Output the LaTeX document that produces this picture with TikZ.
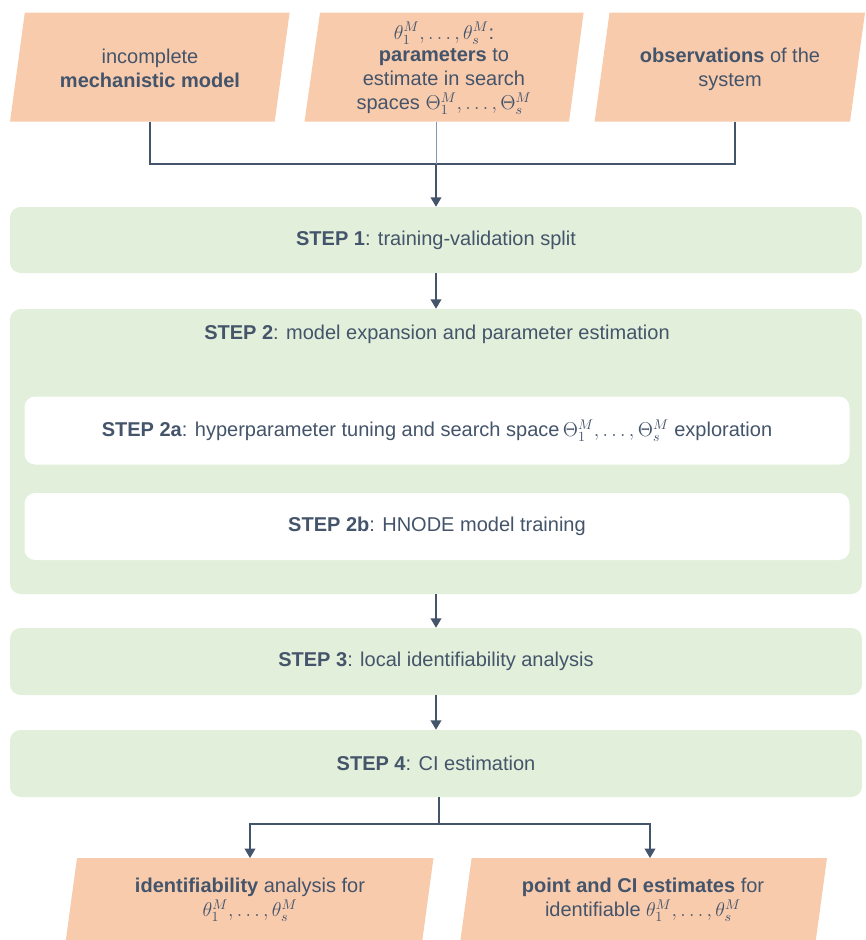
\RequirePackage{fix-cm}
\documentclass[tikz,border=0pt]{standalone}
\usepackage{fontspec}
\setmainfont{Liberation Sans}
\usetikzlibrary{arrows.meta}
\definecolor{txt}{HTML}{44546A}
\definecolor{orng}{HTML}{F8CBAD}
\definecolor{grn}{HTML}{E2EFDA}
\definecolor{thinln}{HTML}{8497B0}
\begin{document}
\begin{tikzpicture}[x=0.75pt,y=-0.75pt,
  every node/.style={text=txt, font=\fontsize{15}{18}\selectfont, align=center, inner sep=0pt},
  stepbox/.style={rectangle, rounded corners=8pt, fill=grn, minimum width=639pt},
  subbox/.style={rectangle, rounded corners=8pt, fill=white, minimum width=618.75pt},
  conn/.style={draw=txt, line width=1.1pt},
  thinconn/.style={draw=thinln, line width=0.6pt},
  tip/.style={-{Triangle[length=7pt,width=8pt]}}]
\useasboundingbox (0,0) rectangle (865,940);
\begin{scope}
\clip (0,0) rectangle (865,940);
% top input boxes
\fill[orng] (24.8,12.7) -- (289.6,12.7) -- (274.7,121.7) -- (10,121.7) -- cycle;
\fill[orng] (320,12.7) -- (583.6,12.7) -- (569,121.7) -- (304.5,121.7) -- cycle;
\fill[orng] (609.5,12.7) -- (865,12.7) -- (850,121.7) -- (594.6,121.7) -- cycle;
% bottom output boxes
\fill[orng] (77,858) -- (433.5,858) -- (421,950) -- (64.5,950) -- cycle;
\fill[orng] (471.6,858) -- (827,858) -- (814.5,950) -- (459.1,950) -- cycle;
\end{scope}

\node (in1) at (150,68.5) {incomplete\\\textbf{mechanistic model}};
\node (in2) at (444,68.5) {$\theta_1^M,\ldots,\theta_s^M$:\\[-1pt]\textbf{parameters} to\\estimate in search\\spaces $\Theta_1^M,\ldots,\Theta_s^M$};
\node (in3) at (730,69) {\textbf{observations} of the\\system};

\node[stepbox, minimum height=49.5pt] (s1) at (436,240) {\textbf{STEP 1}: training-validation split};
\node[stepbox, minimum height=213.75pt] (s2) at (436,451.5) {};
\node (s2t) at (437,334) {\textbf{STEP 2}: model expansion and parameter estimation};
\node[subbox, minimum height=51pt] (s2a) at (437,430.5) {\textbf{STEP 2a}: hyperparameter tuning and search space\,$\Theta_1^M,\ldots,\Theta_s^M$ exploration};
\node[subbox, minimum height=50.25pt] (s2b) at (437,526.5) {\textbf{STEP 2b}: HNODE model training};
\node[stepbox, minimum height=50.25pt] (s3) at (436,661.5) {\textbf{STEP 3}: local identifiability analysis};
\node[stepbox, minimum height=50.25pt] (s4) at (436,763.5) {\textbf{STEP 4}: CI estimation};

\node (out1) at (250,900) {\textbf{identifiability} analysis for\\$\theta_1^M,\ldots,\theta_s^M$};
\node (out2) at (643,900) {\textbf{point and CI estimates} for\\identifiable $\theta_1^M,\ldots,\theta_s^M$};

% connectors
\coordinate (b1s) at (150,121.7);
\coordinate (b2s) at (436,121.7);
\coordinate (b3s) at (735,121.7);
\coordinate (j) at (436,164);
\draw[conn] (b1s) |- (j);
\draw[conn] (b3s) |- (j);
\draw[thinconn] (b2s) -- (j);
\draw[conn,tip] (j) -- (s1.north);
\draw[conn,tip] (s1.south) -- (s2.north);
\draw[conn,tip] (s2.south) -- (s3.north);
\draw[conn,tip] (s3.south) -- (s4.north);
\coordinate (s4b) at (439,797);
\coordinate (k) at (439,824);
\coordinate (o1t) at (250,858);
\coordinate (o2t) at (650,858);
\draw[conn] (s4b) -- (k);
\draw[conn,tip] (k) -| (o1t);
\draw[conn,tip] (k) -| (o2t);
\end{tikzpicture}
\end{document}
